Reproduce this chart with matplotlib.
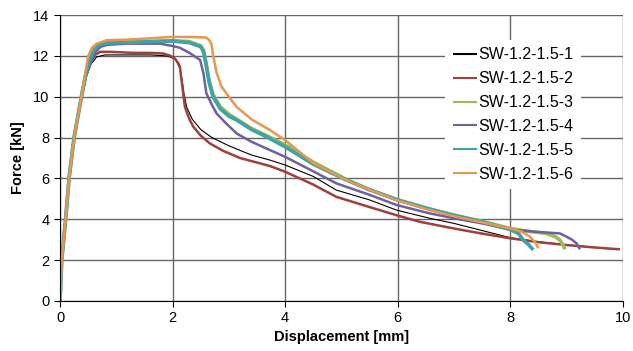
import matplotlib
matplotlib.use("Agg")
import matplotlib.pyplot as plt

plt.rcParams['font.family'] = ['Liberation Sans', 'DejaVu Sans']

# Force-displacement curves
labels = ["SW-1.2-1.5-1", "SW-1.2-1.5-2", "SW-1.2-1.5-3",
          "SW-1.2-1.5-4", "SW-1.2-1.5-5", "SW-1.2-1.5-6"]

x1 = [0, 0.03, 0.1, 0.16, 0.25, 0.38, 0.46, 0.55, 0.65, 0.8, 1.2, 1.6, 1.9, 2.05, 2.13, 2.17,
      2.2, 2.25, 2.35, 2.5, 2.7, 3.0, 3.4, 3.73, 4.0, 4.5, 4.91, 5.5, 5.98, 6.57, 7.0, 7.5,
      8.0, 8.5, 9.0, 9.5, 9.9]
y1 = [0, 2, 4, 6, 8, 10, 11, 11.6, 11.95, 12.05, 12.05, 12.05, 12.0, 11.85, 11.4, 10.8,
      10.2, 9.5, 8.9, 8.4, 8.0, 7.6, 7.15, 6.9, 6.66, 6.1, 5.43, 4.95, 4.45, 4.05, 3.8, 3.45,
      3.1, 2.9, 2.75, 2.62, 2.52]

x2 = [0, 0.03, 0.1, 0.16, 0.25, 0.38, 0.46, 0.55, 0.62, 0.71, 0.9, 1.3, 1.6, 1.83, 1.95,
      2.04, 2.1, 2.13, 2.16, 2.22, 2.3, 2.37, 2.5, 2.66, 2.9, 3.2, 3.73, 4.0, 4.5, 4.91, 5.5,
      5.98, 6.39, 7.0, 7.5, 8.0, 8.5, 9.0, 9.5, 9.95]
y2 = [0, 2, 4, 6, 8, 10, 11, 11.7, 12.05, 12.2, 12.2, 12.15, 12.15, 12.12, 12.02,
      11.88, 11.65, 11.47, 10.8, 9.5, 8.9, 8.53, 8.1, 7.72, 7.35, 7.0, 6.61, 6.33, 5.7, 5.1,
      4.6, 4.2, 3.88, 3.55, 3.3, 3.07, 2.88, 2.74, 2.62, 2.53]

x3 = [0, 0.03, 0.1, 0.16, 0.25, 0.38, 0.45, 0.52, 0.6, 0.7, 0.85, 1.2, 1.6, 2.0, 2.3, 2.5,
      2.55, 2.6, 2.65, 2.72, 2.85, 3.0, 3.14, 3.4, 3.67, 4.0, 4.5, 5.09, 5.5, 6.0, 6.57, 7.0,
      7.5, 8.0, 8.3, 8.64, 8.8, 8.88, 8.94, 8.97]
y3 = [0, 2, 4, 6, 8, 10, 11, 11.8, 12.3, 12.55, 12.65, 12.68, 12.7, 12.75, 12.7, 12.5,
      12.3, 11.6, 10.8, 10.1, 9.5, 9.15, 8.9, 8.45, 8.1, 7.65, 6.8, 5.95, 5.45, 4.95, 4.5,
      4.2, 3.9, 3.55, 3.42, 3.31, 3.15, 2.99, 2.75, 2.53]

x4 = [0, 0.03, 0.1, 0.16, 0.25, 0.38, 0.46, 0.55, 0.63, 0.72, 0.85, 1.2, 1.78, 2.01, 2.13,
      2.3, 2.49, 2.55, 2.6, 2.7, 2.78, 2.95, 3.14, 3.4, 3.73, 4.0, 4.5, 4.91, 5.5, 5.98, 6.57,
      7.0, 7.5, 8.0, 8.5, 8.88, 9.0, 9.1, 9.18, 9.24]
y4 = [0, 2, 4, 6, 8, 10, 11, 11.7, 12.2, 12.45, 12.55, 12.6, 12.6, 12.48, 12.4,
      12.15, 11.8, 11.14, 10.17, 9.6, 9.19, 8.7, 8.2, 7.8, 7.39, 7.06, 6.35, 5.76, 5.2, 4.7,
      4.29, 4.05, 3.8, 3.5, 3.38, 3.31, 3.15, 3.0, 2.82, 2.53]

x5 = [0, 0.03, 0.1, 0.16, 0.25, 0.38, 0.45, 0.52, 0.6, 0.7, 0.85, 1.2, 1.6, 2.0, 2.3, 2.5,
      2.55, 2.6, 2.65, 2.72, 2.85, 3.0, 3.14, 3.4, 3.67, 4.0, 4.5, 5.09, 5.5, 6.0, 6.57, 7.0,
      7.5, 8.0, 8.15, 8.23, 8.33, 8.41]
y5 = [0, 2, 4, 6, 8, 10, 11, 11.8, 12.3, 12.55, 12.64, 12.66, 12.7, 12.73, 12.65, 12.45,
      12.2, 11.5, 10.7, 10.0, 9.4, 9.05, 8.86, 8.4, 8.04, 7.55, 6.7, 5.92, 5.45, 4.95, 4.5,
      4.2, 3.88, 3.5, 3.3, 2.99, 2.75, 2.5]

x6 = [0, 0.03, 0.1, 0.16, 0.25, 0.38, 0.44, 0.5, 0.57, 0.65, 0.83, 1.2, 1.6, 1.96, 2.3, 2.6,
      2.66, 2.69, 2.72, 2.78, 2.87, 3.0, 3.14, 3.4, 3.73, 4.0, 4.5, 5.09, 5.5, 5.98, 6.57,
      7.0, 7.5, 8.0, 8.2, 8.35, 8.45, 8.5]
y6 = [0, 2, 4, 6, 8, 10, 11, 12.0, 12.4, 12.6, 12.77, 12.8, 12.86, 12.93, 12.93, 12.9,
      12.75, 12.6, 12.04, 11.2, 10.5, 10.0, 9.5, 8.9, 8.37, 7.88, 6.75, 5.92, 5.45, 4.94,
      4.45, 4.15, 3.85, 3.56, 3.4, 3.15, 2.85, 2.58]

xs = [x1, x2, x3, x4, x5, x6]
ys = [y1, y2, y3, y4, y5, y6]
colors = ["#000000", "#A0403D", "#9BBB59", "#7060A0", "#3FA3A8", "#E8974E"]
widths = [0.8, 1.8, 2.6, 1.8, 2.6, 1.8]

fig = plt.figure(figsize=(6.33, 3.51), dpi=100)
ax = fig.add_axes([0.0948, 0.1425, 0.889, 0.8145])

for x, y, c, w, lab in zip(xs, ys, colors, widths, labels):
    ax.plot(x, y, color=c, lw=w, label=lab, solid_capstyle='butt')

ax.set_xlim(0, 10)
ax.set_ylim(0, 14)
ax.set_xticks(range(0, 11, 2))
ax.set_yticks(range(0, 15, 2))
ax.grid(True, color="#666666", lw=1.0)
ax.set_axisbelow(True)
for s in ["top", "right"]:
    ax.spines[s].set_visible(False)
ax.spines["left"].set_color("black")
ax.spines["bottom"].set_color("black")
ax.tick_params(direction="out", length=4, width=0.8, labelsize=10.5, colors="black")

ax.set_xlabel("Displacement [mm]", fontsize=10.5, fontweight="bold", labelpad=3)
ax.set_ylabel("Force [kN]", fontsize=10.5, fontweight="bold", labelpad=6)

leg = ax.legend(loc="center", bbox_to_anchor=(0.805, 0.652), fontsize=11.5,
                frameon=True, fancybox=False, edgecolor="none", facecolor="white",
                framealpha=1, handlelength=1.5, handletextpad=0.1,
                labelspacing=0.56, borderpad=0.45)
for h in leg.get_lines():
    h.set_linewidth(1.5)

fig.savefig("out.png", dpi=100)
